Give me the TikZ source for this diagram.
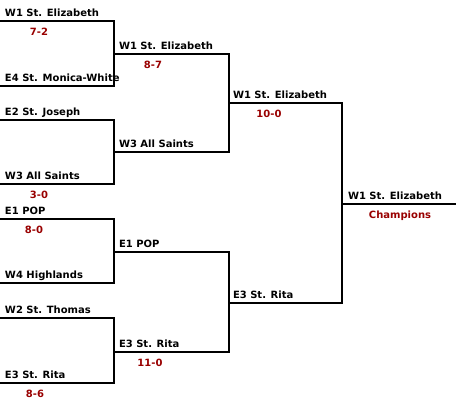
\documentclass[tikz,border=0pt]{standalone}
\usepackage{fontspec}
\newfontfamily\teamfont{DejaVu Sans}
\definecolor{scorered}{RGB}{153,0,0}
\begin{document}
\begin{tikzpicture}[x=1pt,y=-1pt,line width=2pt,
  team/.style={anchor=base west,inner sep=0pt,font=\teamfont\bfseries\fontsize{10}{12}\selectfont},
  score/.style={anchor=north,inner sep=0pt,text=scorered,font=\teamfont\bfseries\fontsize{10}{12}\selectfont}]
\useasboundingbox (0,0) rectangle (456,401);
% line ends, round by round
\foreach \n/\y in {1/21,2/86,3/120,4/184,5/219,6/283,7/318,8/383} {
  \coordinate (ra\n) at (0,\y);
  \coordinate (rb\n) at (114,\y);
}
\foreach \n/\y in {1/54,2/152,3/252,4/352} {
  \coordinate (sa\n) at (114,\y);
  \coordinate (sb\n) at (229,\y);
}
\foreach \n/\y in {1/103,2/303} {
  \coordinate (ta\n) at (229,\y);
  \coordinate (tb\n) at (342,\y);
}
\coordinate (fa) at (342,204);
\coordinate (fb) at (456,204);
% brackets
\draw (ra1) -- (rb1) -- (rb2) -- (ra2);
\draw (ra3) -- (rb3) -- (rb4) -- (ra4);
\draw (ra5) -- (rb5) -- (rb6) -- (ra6);
\draw (ra7) -- (rb7) -- (rb8) -- (ra8);
\draw (sa1) -- (sb1) -- (sb2) -- (sa2);
\draw (sa3) -- (sb3) -- (sb4) -- (sa4);
\draw (ta1) -- (tb1) -- (tb2) -- (ta2);
\draw (fa) -- (fb);
% teams
\node[team] (t1) at ([shift={(4,-4)}]ra1) {W1 St. Elizabeth};
\node[team] (t2) at ([shift={(4,-4)}]ra2) {E4 St. Monica-White};
\node[team] (t3) at ([shift={(4,-4)}]ra3) {E2 St. Joseph};
\node[team] (t4) at ([shift={(4,-4)}]ra4) {W3 All Saints};
\node[team] (t5) at ([shift={(4,-4)}]ra5) {E1 POP};
\node[team] (t6) at ([shift={(4,-4)}]ra6) {W4 Highlands};
\node[team] (t7) at ([shift={(4,-4)}]ra7) {W2 St. Thomas};
\node[team] (t8) at ([shift={(4,-4)}]ra8) {E3 St. Rita};
\node[team] (u1) at ([shift={(4,-4)}]sa1) {W1 St. Elizabeth};
\node[team] (u2) at ([shift={(4,-4)}]sa2) {W3 All Saints};
\node[team] (u3) at ([shift={(4,-4)}]sa3) {E1 POP};
\node[team] (u4) at ([shift={(4,-4)}]sa4) {E3 St. Rita};
\node[team] (v1) at ([shift={(3,-4)}]ta1) {W1 St. Elizabeth};
\node[team] (v2) at ([shift={(3,-4)}]ta2) {E3 St. Rita};
\node[team] (champ) at ([shift={(5,-4)}]fa) {W1 St. Elizabeth};
% scores
\node[score] (s1) at ([shift={(39,6)}]ra1) {7-2};
\node[score] (s2) at ([shift={(39,6)}]ra4) {3-0};
\node[score] (s3) at ([shift={(34,6)}]ra5) {8-0};
\node[score] (s4) at ([shift={(35,6)}]ra8) {8-6};
\node[score] (s5) at ([shift={(39,6)}]sa1) {8-7};
\node[score] (s6) at ([shift={(36,6)}]sa4) {11-0};
\node[score] (s7) at ([shift={(40,6)}]ta1) {10-0};
\node[score] (s8) at ([shift={(58,6)}]fa) {Champions};
\end{tikzpicture}
\end{document}
